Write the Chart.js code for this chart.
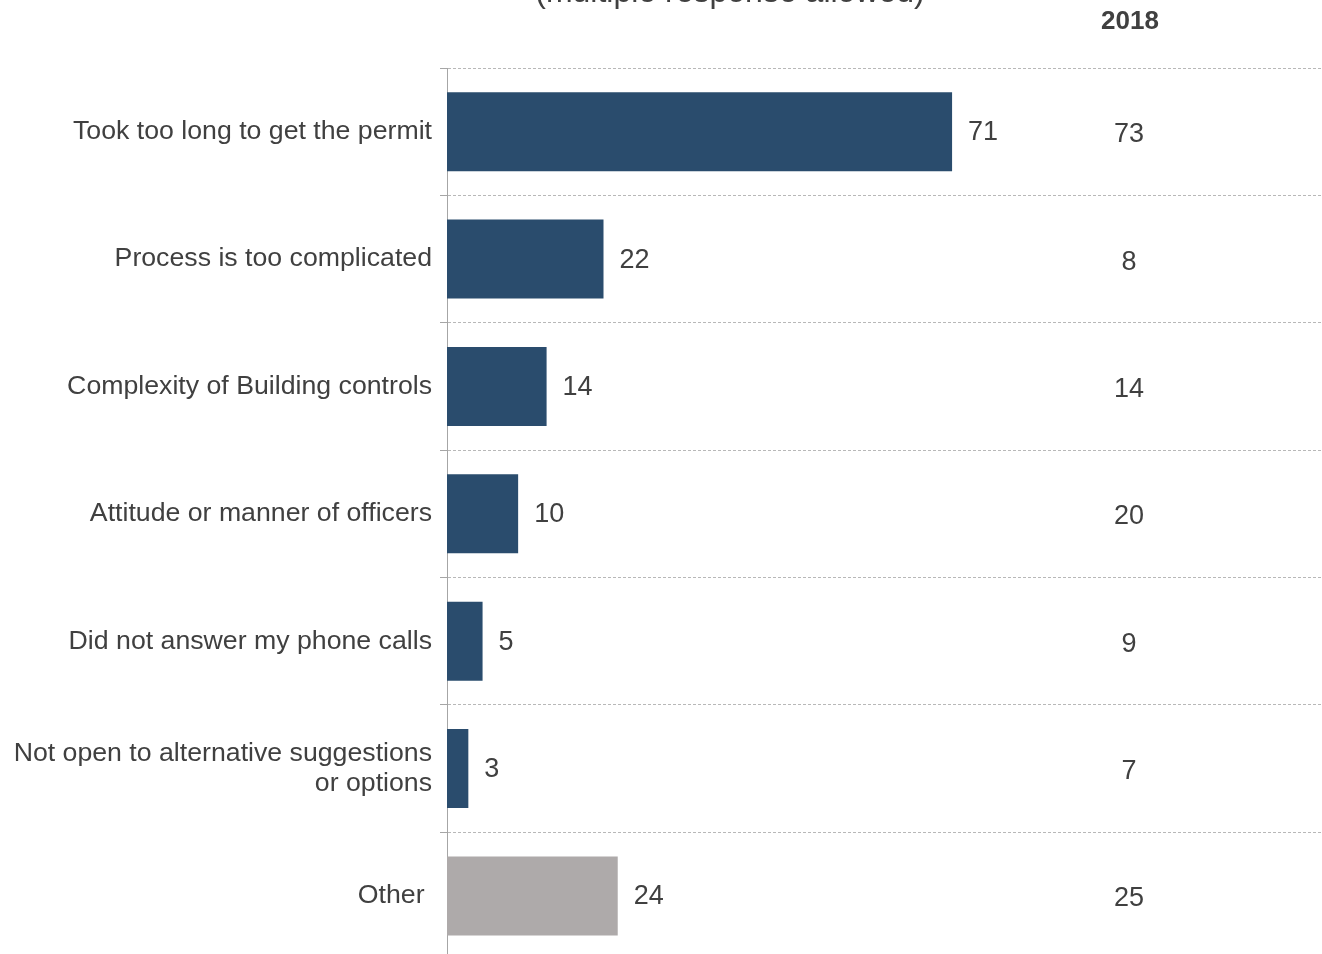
<!DOCTYPE html>
<html>
<head>
<meta charset="utf-8">
<script src="https://cdn.jsdelivr.net/npm/chart.js@4"></script>
<style>
  html, body { margin: 0; padding: 0; overflow: hidden; background: #ffffff; }
  #wrap { position: absolute; left: 0; top: 0; width: 1322px; height: 983px; }
</style>
</head>
<body>
<div id="wrap"><canvas id="c" width="1322" height="983"></canvas></div>
<script>
const categories = [
  "Took too long to get the permit",
  "Process is too complicated",
  "Complexity of Building controls",
  "Attitude or manner of officers",
  "Did not answer my phone calls",
  ["Not open to alternative suggestions", "or options"],
  "Other "
];
const values2019 = [71, 22, 14, 10, 5, 3, 24];
const values2018 = [73, 8, 14, 20, 9, 7, 25];
const barColors = ["#2A4C6D", "#2A4C6D", "#2A4C6D", "#2A4C6D", "#2A4C6D", "#2A4C6D", "#AEAAAA"];
const titleText = "(multiple response allowed)";
const compareHeader = "2018";

const FONT = "'Liberation Sans', Arial, sans-serif";
const TEXT = "#404040";

const overlay = {
  id: "overlay",
  afterDatasetsDraw(chart) {
    const ctx = chart.ctx;
    const meta = chart.getDatasetMeta(0);
    ctx.save();
    ctx.fillStyle = TEXT;
    ctx.font = "32px " + FONT;
    ctx.textAlign = "center";
    ctx.textBaseline = "alphabetic";
    ctx.fillText(titleText, 730, 2);
    ctx.font = "bold 26px " + FONT;
    ctx.textBaseline = "middle";
    ctx.fillText(compareHeader, 1130, 22);
    ctx.font = "27px " + FONT;
    meta.data.forEach((bar, i) => {
      ctx.textAlign = "left";
      ctx.fillText(String(values2019[i]), bar.x + 16, bar.y + 1);
      ctx.textAlign = "center";
      ctx.fillText(String(values2018[i]), 1129, bar.y + 3);
    });
    ctx.restore();
  }
};

new Chart(document.getElementById("c"), {
  type: "bar",
  data: {
    labels: categories,
    datasets: [{
      data: values2019,
      backgroundColor: barColors,
      borderWidth: 0,
      barPercentage: 0.62,
      categoryPercentage: 1.0
    }]
  },
  options: {
    indexAxis: "y",
    responsive: false,
    animation: false,
    devicePixelRatio: 1,
    layout: { padding: { top: 68, right: 0, bottom: 0, left: 0 } },
    plugins: {
      legend: { display: false },
      tooltip: { enabled: false },
      title: { display: false }
    },
    scales: {
      x: {
        display: false,
        min: 0,
        max: 123,
        grid: { display: false }
      },
      y: {
        afterFit(scale) { scale.width = 447; },
        ticks: {
          color: TEXT,
          font: { family: FONT, size: 26.7, lineHeight: 1.15 },
          padding: 8
        },
        grid: {
          display: true,
          offset: true,
          color: "#b8b8b8",
          lineWidth: 1,
          tickColor: "#a6a6a6",
          tickLength: 7,
          drawTicks: true
        },
        border: {
          display: true,
          color: "#a6a6a6",
          width: 1,
          dash: [3, 2]
        }
      }
    }
  },
  plugins: [overlay]
});
</script>
</body>
</html>
